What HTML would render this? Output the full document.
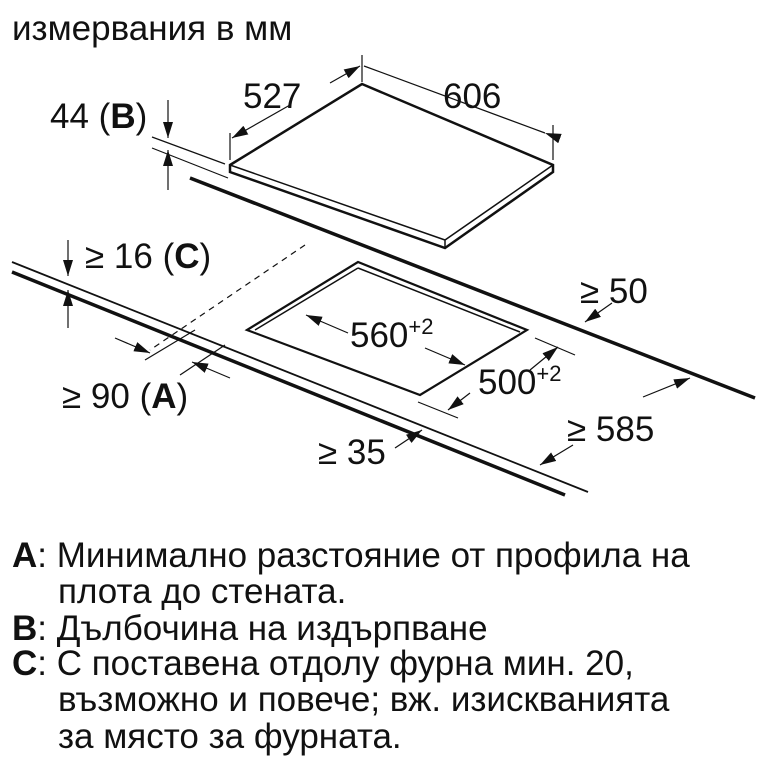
<!DOCTYPE html>
<html><head><meta charset="utf-8"><style>
body{margin:0;background:#fff;width:768px;height:768px;overflow:hidden;position:relative;font-family:"Liberation Sans","DejaVu Sans",sans-serif;color:#111}
.t{position:absolute;font-size:35px;line-height:36px;white-space:nowrap}
</style></head><body>
<svg width="768" height="768" style="position:absolute;left:0;top:0" font-family="Liberation Sans, sans-serif" fill="#111">
<defs>
<marker id="b" viewBox="0 0 16 10" markerWidth="16" markerHeight="10" refX="16" refY="5" orient="auto" markerUnits="userSpaceOnUse"><path d="M0,0 L16,5 L0,10z" fill="#111"/></marker></defs>
<text x="12" y="40" font-size="35">измервания в мм</text>
<g stroke="#111" fill="none">
<path d="M230,165 L362,84 L553,165 L553,172 L445,248 L230,172 Z" stroke-width="2.5" fill="#fff"/>
<path d="M230,165 L445,240 L553,165 M445,240 L445,248" stroke-width="1.5"/>
<line x1="190" y1="178" x2="755" y2="398" stroke-width="3.5"/>
<line x1="12" y1="262" x2="588" y2="492" stroke-width="1.8"/>
<line x1="12" y1="272" x2="565" y2="495" stroke-width="3.5"/>
<path d="M247,330 L358,262 L527,330 L420,395 Z" stroke-width="2.2"/>
<path d="M255,330 L358,268 M358,268 L520,332" stroke-width="1.5"/>
<line x1="305" y1="245" x2="150" y2="350" stroke-width="1.2" stroke-dasharray="6,5"/>
<line x1="230" y1="133" x2="230" y2="160" stroke-width="1.2"/>
<line x1="362" y1="55" x2="362" y2="82" stroke-width="1.2"/>
<line x1="553" y1="125" x2="553" y2="160" stroke-width="1.2"/>
<line x1="152" y1="137" x2="225" y2="164" stroke-width="1.2"/>
<line x1="152" y1="148" x2="228" y2="178" stroke-width="1.2"/>
<line x1="535" y1="338" x2="575" y2="355" stroke-width="1.2"/>
<line x1="418" y1="402" x2="458" y2="418" stroke-width="1.2"/>
<line x1="145" y1="360" x2="195" y2="330" stroke-width="1.2"/>
<line x1="180" y1="375" x2="225" y2="345" stroke-width="1.2"/>
<line x1="290" y1="105" x2="232" y2="138" stroke-width="1.2" marker-end="url(#b)"/>
<line x1="330" y1="83" x2="360" y2="66" stroke-width="1.2" marker-end="url(#b)"/>
<line x1="545" y1="133" x2="364" y2="66" stroke-width="1.2" marker-start="url(#b)"/>
<line x1="168" y1="100" x2="168" y2="138" stroke-width="1.2" marker-end="url(#b)"/>
<line x1="168" y1="190" x2="168" y2="150" stroke-width="1.2" marker-end="url(#b)"/>
<line x1="68" y1="240" x2="68" y2="276" stroke-width="1.2" marker-end="url(#b)"/>
<line x1="68" y1="328" x2="68" y2="290" stroke-width="1.2" marker-end="url(#b)"/>
<line x1="348" y1="333" x2="306" y2="315" stroke-width="1.2" marker-end="url(#b)"/>
<line x1="425" y1="348" x2="465" y2="365" stroke-width="1.2" marker-end="url(#b)"/>
<line x1="530" y1="370" x2="558" y2="347" stroke-width="1.2" marker-end="url(#b)"/>
<line x1="470" y1="393" x2="448" y2="410" stroke-width="1.2" marker-end="url(#b)"/>
<line x1="115" y1="338" x2="150" y2="353" stroke-width="1.2" marker-end="url(#b)"/>
<line x1="230" y1="378" x2="192" y2="362" stroke-width="1.2" marker-end="url(#b)"/>
<line x1="612" y1="303" x2="585" y2="322" stroke-width="1.2" marker-end="url(#b)"/>
<line x1="643" y1="397" x2="690" y2="378" stroke-width="1.2" marker-end="url(#b)"/>
<line x1="573" y1="445" x2="540" y2="465" stroke-width="1.2" marker-end="url(#b)"/>
<line x1="395" y1="448" x2="422" y2="430" stroke-width="1.2" marker-end="url(#b)"/>
</g>
<g font-size="35">
<text x="243" y="108">527</text>
<text x="443" y="108">606</text>
<text x="50" y="128">44 (<tspan font-weight="bold">B</tspan>)</text>
<text x="85" y="268">≥ 16 (<tspan font-weight="bold">C</tspan>)</text>
<text x="580" y="303">≥ 50</text>
<text x="350" y="347">560<tspan font-size="22" dy="-13">+2</tspan></text>
<text x="478" y="394">500<tspan font-size="22" dy="-13">+2</tspan></text>
<text x="62" y="408">≥ 90 (<tspan font-weight="bold">A</tspan>)</text>
<text x="567" y="441">≥ 585</text>
<text x="318" y="464">≥ 35</text>
</g>
</svg>
<div class="t" style="left:12px;top:538px"><b>A</b>: Минимално разстояние от профила на</div>
<div class="t" style="left:58px;top:574px">плота до стената.</div>
<div class="t" style="left:12px;top:611px"><b>B</b>: Дълбочина на издърпване</div>
<div class="t" style="left:12px;top:646px"><b>C</b>: С поставена отдолу фурна мин. 20,</div>
<div class="t" style="left:58px;top:682px">възможно и повече; вж. изискванията</div>
<div class="t" style="left:58px;top:719px">за място за фурната.</div>
</body></html>
